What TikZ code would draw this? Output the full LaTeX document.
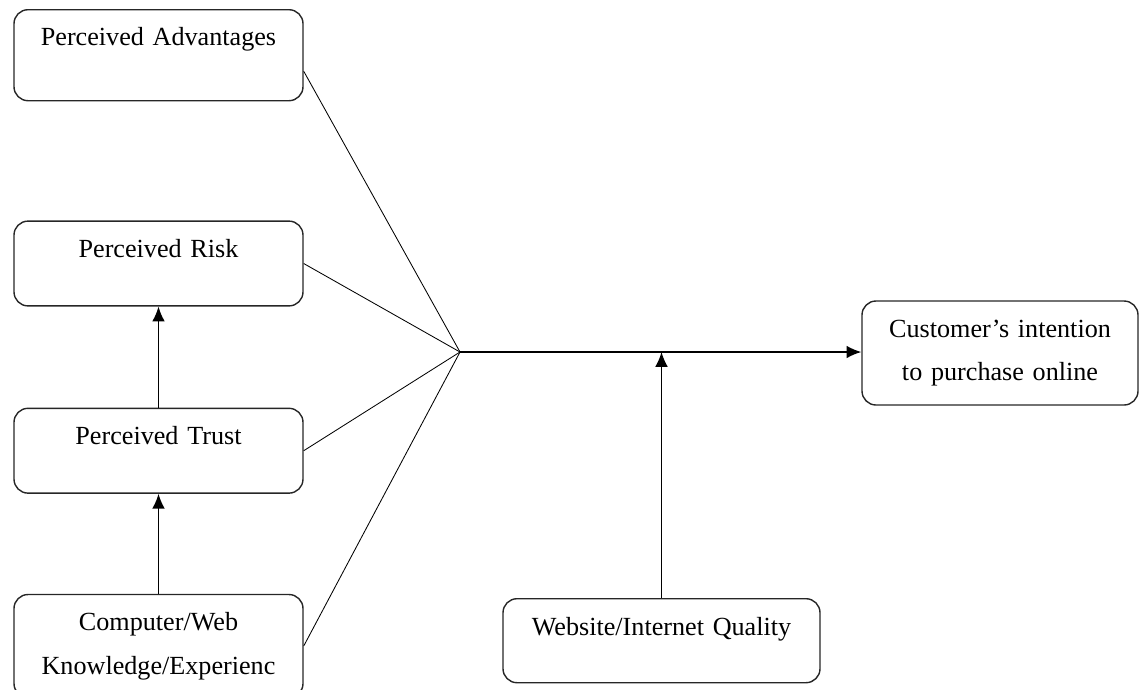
\documentclass[tikz,border=0pt]{standalone}
\usepackage{fontspec}
\setmainfont{Liberation Serif}
\usetikzlibrary{arrows.meta}
\usetikzlibrary{positioning}
\tikzstyle{block} = [draw=black!85, rectangle, rounded corners=0.35cm, line width=1pt,
 minimum width=7.225cm, text width=6.9cm, inner xsep=0pt, align=center,
 font=\fontsize{18.6}{31}\selectfont]
\tikzstyle{oneline} = [inner ysep=0pt, text height=0.9cm, text depth=1.22cm]
\tikzstyle{arrow} = [line width=1pt, -{Latex[length=10.5pt, width=9pt]}]
\tikzstyle{line} = [line width=0.6pt, -]

\begin{document}
\begin{tikzpicture}
 	\useasboundingbox (0,0) rectangle (28.5,-17.225);

 	\node [block, oneline, text depth=1.375cm, anchor=north] (adv) at (3.9625,-0.225) {Perceived Advantages};
 	\node [block, oneline, below=2.975cm of adv] (risk) {Perceived Risk};
 	\node [block, oneline, below=2.525cm of risk] (trust) {Perceived Trust};
 	\node [block, minimum height=2.575cm, below=2.5cm of trust] (comp) {Computer/Web\\Knowledge/Experienc};

 	\node [block, minimum width=6.9cm, text width=6.6cm, minimum height=2.6cm] (cust) at (25,-8.825) {Customer's intention\\to purchase online};
 	\node [block, oneline, minimum width=7.925cm, text height=0.925cm, text depth=1.175cm, anchor=north] (web) at (16.5375,-14.95) {Website/Internet Quality};

 	\coordinate (hub) at (11.5,-8.8);

 	\draw [arrow] (comp) -- (trust);
 	\draw [arrow] (trust) -- (risk);

 	\draw [line] ([yshift=-0.4cm]adv.east) -- (hub);
 	\draw [line] (risk.east) -- (hub);
 	\draw [line] (trust.east) -- (hub);
 	\draw [line] (comp.east) -- (hub);

 	\draw [arrow] (hub) -- (hub -| cust.west);
 	\draw [arrow] (web) -- (web |- hub);

\end{tikzpicture}
\end{document}
